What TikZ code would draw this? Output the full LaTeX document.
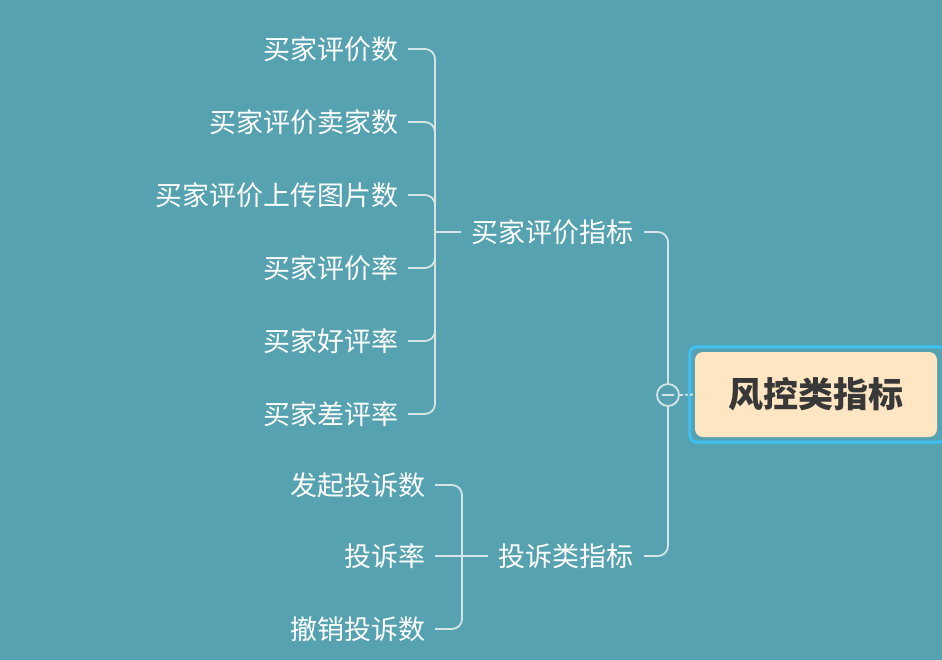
\documentclass[tikz,border=0pt]{standalone}
\usepackage{fontspec}
\newfontfamily\cjk{Noto Sans CJK SC}
\definecolor{bgc}{HTML}{56A2B1}
\definecolor{linec}{HTML}{D6E4E8}
\definecolor{rootfill}{HTML}{FFE6C2}
\definecolor{roottext}{HTML}{383838}
\definecolor{selblue}{HTML}{3EC1F2}
\tikzset{
  leaf/.style={inner sep=0pt, text=white, font=\cjk\fontsize{27}{32}\selectfont, anchor=east},
  mid/.style={inner sep=0pt, text=white, font=\cjk\fontsize{27}{32}\selectfont},
  conn/.style={draw=linec, line width=1.8pt, rounded corners=10pt},
  rootbox/.style={fill=rootfill, rounded corners=8pt, minimum width=242pt, minimum height=85pt, inner sep=0pt, text=roottext, font=\cjk\fontsize{35}{40}\selectfont\bfseries},
}
\begin{document}
\begin{tikzpicture}[x=1pt,y=-1pt]
\fill[bgc] (0,0) rectangle (942,660);
\useasboundingbox (0,0) rectangle (942,660);

% root
\node[rootbox] (r) at (816,394.5) {风控类指标};
\draw[selblue, line width=3pt, rounded corners=7pt] ([shift={(-5,-5)}]r.north west) rectangle ([shift={(8,5)}]r.south east);
\node[circle, draw=linec, line width=1.8pt, minimum size=22pt, inner sep=0pt] (o) at (668,395) {};
\draw[linec, line width=1.8pt] ([xshift=-6pt]o.center) -- ([xshift=6pt]o.center);
\draw[linec, line width=1.8pt, dash pattern=on 3pt off 2pt] (o.east) -- (r.west);

% children
\node[mid, anchor=east] (c1) at (634,232) {买家评价指标};
\node[mid, anchor=east] (c2) at (634,556) {投诉类指标};
\draw[conn] ([xshift=10pt]c1.east) -| (o.north);
\draw[conn] ([xshift=10pt]c2.east) -| (o.south);

% brackets
\coordinate (b1) at (435,232);
\coordinate (b2) at (462,556);
\draw[conn] (b1) -- ([xshift=-11pt]c1.west);
\draw[conn] (b2) -- ([xshift=-11pt]c2.west);

% leaves group 1
\node[leaf] (a1) at (399,49) {买家评价数};
\node[leaf] (a2) at (399,122) {买家评价卖家数};
\node[leaf] (a3) at (399,195) {买家评价上传图片数};
\node[leaf] (a4) at (399,268) {买家评价率};
\node[leaf] (a5) at (399,341) {买家好评率};
\node[leaf] (a6) at (399,414) {买家差评率};
\foreach \n in {a1,a2,a3,a4,a5,a6}{
  \draw[conn] ([xshift=9pt]\n.east) -| (b1);
}

% leaves group 2
\node[leaf] (d1) at (426,485) {发起投诉数};
\node[leaf] (d2) at (426,556) {投诉率};
\node[leaf] (d3) at (426,629) {撤销投诉数};
\draw[conn] ([xshift=9pt]d1.east) -| (b2);
\draw[conn] ([xshift=9pt]d2.east) -- (b2);
\draw[conn] ([xshift=9pt]d3.east) -| (b2);
\end{tikzpicture}
\end{document}
